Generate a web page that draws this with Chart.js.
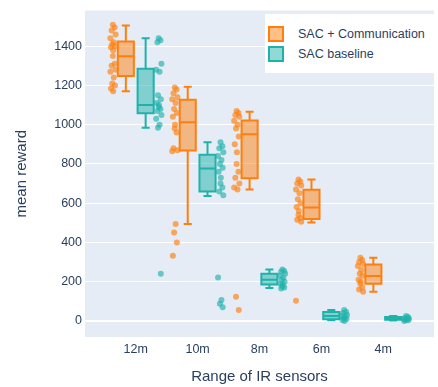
<!DOCTYPE html>
<html>
<head>
<meta charset="utf-8">
<script src="https://cdn.jsdelivr.net/npm/chart.js@4.4.1/dist/chart.umd.min.js"></script>
<style>
  body { margin: 0; background: #fff; }
  #wrap { position: relative; width: 438px; height: 387px; }
  #legend {
    position: absolute; left: 265px; top: 14px; width: 170px; height: 59px;
    background: #fff; font: 12.5px Arial, "Liberation Sans", sans-serif; color: #2a3f5f;
  }
  .item { position: absolute; left: 3px; height: 16px; line-height: 16px; }
  .sw { position: absolute; left: 0; top: 0; width: 12px; height: 12px; border: 2px solid; }
  .lbl { position: absolute; left: 30px; top: 0; white-space: nowrap; }
</style>
</head>
<body>
<div id="wrap">
  <canvas id="chart" width="438" height="387"></canvas>
  <div id="legend">
    <div class="item" style="top:12px"><span class="sw" style="border-color:#ff7f0e;background:#ffbf87"></span><span class="lbl">SAC + Communication</span></div>
    <div class="item" style="top:32px"><span class="sw" style="border-color:#20b2aa;background:#90d9d5"></span><span class="lbl">SAC baseline</span></div>
  </div>
</div>
<script>
const categories = ["12m", "10m", "8m", "6m", "4m"];

// box statistics per category
const commLow    = [1171, 494, 670, 502, 148];
const commQ1     = [1248, 868, 727, 519, 190];
const commMedian = [1349, 1012, 951, 578, 229];
const commQ3     = [1424, 1127, 1022, 669, 288];
const commHigh   = [1505, 1193, 1066, 721, 322];

const baseLow    = [985, 637, 168, 3, 2];
const baseQ1     = [1058, 659, 186, 8, 6];
const baseMedian = [1100, 777, 210, 25, 12];
const baseQ3     = [1285, 847, 240, 45, 20];
const baseHigh   = [1440, 910, 262, 55, 25];

// individual runs per category
const commPoints = [
  [1510, 1495, 1480, 1460, 1440, 1420, 1410, 1400, 1395, 1380, 1350, 1310, 1300, 1280, 1270, 1240, 1210, 1200, 1185, 1170],
  [1190, 1180, 1160, 1140, 1130, 1110, 1080, 1060, 1040, 1000, 980, 960, 880, 870, 865, 494, 450, 399, 332],
  [1070, 1060, 1050, 1040, 1020, 1000, 980, 940, 900, 860, 800, 760, 730, 700, 680, 670, 123, 56],
  [721, 710, 700, 690, 670, 650, 620, 600, 580, 560, 540, 525, 515, 505, 103],
  [322, 310, 300, 290, 280, 260, 240, 230, 210, 200, 190, 170, 160, 148]
];
const basePoints = [
  [1440, 1430, 1420, 1310, 1280, 1270, 1150, 1130, 1110, 1100, 1090, 1080, 1070, 1050, 1030, 1000, 985, 240],
  [910, 890, 880, 860, 840, 820, 800, 780, 760, 730, 700, 680, 660, 640, 221, 106, 88, 69],
  [262, 255, 250, 240, 230, 220, 210, 200, 190, 185, 175, 170, 165],
  [55, 45, 40, 30, 25, 20, 15, 10, 5, 0],
  [25, 20, 15, 12, 10, 8, 5, 3, 0]
];

const ORANGE = "#ff7f0e", TEAL = "#20b2aa";
const boxOffset = 0.16, boxWidth = 0.26, pointOffset = 0.37;
const jitter = [0, 0.6, -0.4, 0.9, -0.8, 0.3, -0.2, 0.7, -0.6, 0.1];

function toPoints(groups, side) {
  const out = [];
  groups.forEach((vals, i) => {
    vals.forEach((v, k) => out.push({ x: i + side * pointOffset + jitter[k % jitter.length] * 0.05, y: v }));
  });
  return out;
}

const boxes = [
  { offset: -boxOffset, color: ORANGE, fill: "rgba(255,127,14,0.5)", low: commLow, q1: commQ1, med: commMedian, q3: commQ3, high: commHigh },
  { offset: boxOffset, color: TEAL, fill: "rgba(32,178,170,0.5)", low: baseLow, q1: baseQ1, med: baseMedian, q3: baseQ3, high: baseHigh }
];

const bgPlugin = {
  id: "bg",
  beforeDraw(chart) {
    const { ctx, chartArea: a } = chart;
    ctx.save();
    ctx.fillStyle = "#e5ecf6";
    ctx.fillRect(a.left, a.top, a.right - a.left, a.bottom - a.top);
    ctx.restore();
  }
};

const boxPlugin = {
  id: "boxes",
  beforeDatasetsDraw(chart) {
    const { ctx, scales: { x, y } } = chart;
    ctx.save();
    ctx.lineWidth = 2;
    boxes.forEach(b => {
      categories.forEach((c, i) => {
        const cx = x.getPixelForValue(i + b.offset);
        const half = (x.getPixelForValue(boxWidth) - x.getPixelForValue(0)) / 2;
        const cap = half * 0.5;
        const yq1 = y.getPixelForValue(b.q1[i]), yq3 = y.getPixelForValue(b.q3[i]);
        const ym = y.getPixelForValue(b.med[i]);
        const yl = y.getPixelForValue(b.low[i]), yh = y.getPixelForValue(b.high[i]);
        ctx.fillStyle = b.fill;
        ctx.strokeStyle = b.color;
        ctx.fillRect(cx - half, yq3, half * 2, yq1 - yq3);
        ctx.beginPath();
        ctx.rect(cx - half, yq3, half * 2, yq1 - yq3);
        ctx.moveTo(cx - half, ym); ctx.lineTo(cx + half, ym);
        ctx.moveTo(cx, yq3); ctx.lineTo(cx, yh);
        ctx.moveTo(cx - cap, yh); ctx.lineTo(cx + cap, yh);
        ctx.moveTo(cx, yq1); ctx.lineTo(cx, yl);
        ctx.moveTo(cx - cap, yl); ctx.lineTo(cx + cap, yl);
        ctx.stroke();
      });
    });
    ctx.restore();
  }
};

const FAMILY = "Arial, 'Liberation Sans', sans-serif";
const font = { family: FAMILY, size: 12.5 };
const titleFont = { family: FAMILY, size: 15, weight: "normal" };

new Chart(document.getElementById("chart"), {
  type: "scatter",
  data: {
    datasets: [
      { label: "SAC + Communication", data: toPoints(commPoints, -1), backgroundColor: "rgba(255,127,14,0.65)", borderWidth: 0, pointRadius: 3 },
      { label: "SAC baseline", data: toPoints(basePoints, 1), backgroundColor: "rgba(32,178,170,0.65)", borderWidth: 0, pointRadius: 3 }
    ]
  },
  options: {
    responsive: false,
    animation: false,
    devicePixelRatio: 1,
    layout: { padding: { top: 8, right: 1, left: 0, bottom: 0 } },
    plugins: { legend: { display: false }, tooltip: { enabled: false } },
    scales: {
      x: {
        type: "linear", min: -0.82, max: 4.82,
        grid: { display: false, drawTicks: false },
        border: { display: false },
        ticks: { stepSize: 1, includeBounds: false, padding: 5, color: "#2a3f5f", font: font,
                 callback: v => categories[v] },
        title: { display: true, text: "Range of IR sensors", color: "#2a3f5f",
                 font: titleFont, padding: { top: 4, bottom: 1 } },
        afterFit: s => { s.height = 50; }
      },
      y: {
        min: -82, max: 1582,
        grid: { color: "#ffffff", drawTicks: false, lineWidth: c => (c.tick && c.tick.value === 0 ? 2 : 1) },
        border: { display: false },
        ticks: { stepSize: 200, includeBounds: false, padding: 3, color: "#2a3f5f", font: font,
                 callback: v => String(v) },
        title: { display: true, text: "mean reward", color: "#2a3f5f",
                 font: titleFont, padding: { top: 13, bottom: 0 } },
        afterFit: s => { s.width = 85; }
      }
    }
  },
  plugins: [bgPlugin, boxPlugin]
});
</script>
</body>
</html>
